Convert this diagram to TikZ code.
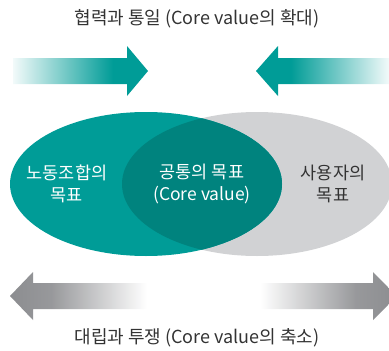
\documentclass[tikz,border=0pt]{standalone}
\usepackage{fontspec}
\setmainfont{Noto Sans CJK KR}
\usepackage{xcolor}
\definecolor{unionteal}{HTML}{009C97}
\definecolor{coreteal}{HTML}{00837E}
\definecolor{employergray}{HTML}{D1D2D4}
\definecolor{arrowgray}{HTML}{8C8D90}
\definecolor{textdark}{HTML}{333333}
\usepackage{tikz}
\usetikzlibrary{positioning}

% fades for the arrow shafts (25bp..75bp is stretched over the path)
\pgfdeclarehorizontalshading{tealin}{100bp}{color(0bp)=(white); color(25bp)=(white!95!unionteal); color(62bp)=(unionteal); color(100bp)=(unionteal)}
\pgfdeclarehorizontalshading{tealinrev}{100bp}{color(0bp)=(unionteal); color(38bp)=(unionteal); color(75bp)=(white!95!unionteal); color(100bp)=(white)}
\pgfdeclarehorizontalshading{grayout}{100bp}{color(0bp)=(arrowgray); color(25bp)=(arrowgray); color(40bp)=(arrowgray!90); color(75bp)=(white); color(100bp)=(white)}
\pgfdeclarehorizontalshading{grayoutrev}{100bp}{color(0bp)=(white); color(25bp)=(white); color(60bp)=(arrowgray!90); color(75bp)=(arrowgray); color(100bp)=(arrowgray)}

\begin{document}
\begin{tikzpicture}[
        x=1pt, y=-1pt,
        caption/.style={font=\fontsize{18}{21}\selectfont, text=textdark},
        goal/.style={font=\fontsize{17.5}{22}\selectfont, align=center, inner sep=0pt}
    ]
        \useasboundingbox (0,0) rectangle (389,351);

        % Title
        \node[caption] (cooperation) at (197,19) {협력과 통일 (Core value의 확대)};

        % Arrows towards each other
        \shade[shading=tealin] (13,58) -- (127,58) -- (127,46) -- (148,71) -- (127,96) -- (127,84) -- (13,84) -- cycle;
        \shade[shading=tealinrev] (389,58) -- (278,58) -- (278,46) -- (256,71) -- (278,96) -- (278,84) -- (389,84) -- cycle;

        % Goals
        \fill[employergray] (257,184) ellipse (135 and 72);
        \fill[unionteal] (146,184) ellipse (136 and 72);
        \begin{scope}
            \clip (146,184) ellipse (136 and 72);
            \fill[coreteal] (257,184) ellipse (135 and 72);
        \end{scope}

        \node[goal, text=white] (union) at (67,184) {노동조합의\\목표};
        \node[goal, text=white] (core) at (202,184) {공통의 목표\\(Core value)};
        \node[goal, text=textdark] (employer) at (333,184) {사용자의\\목표};

        % Arrows away from each other
        \shade[shading=grayout] (147,283) -- (33,283) -- (33,272) -- (10,296) -- (33,320) -- (33,309) -- (147,309) -- cycle;
        \shade[shading=grayoutrev] (260,283) -- (373,283) -- (373,272) -- (397,296) -- (373,320) -- (373,309) -- (260,309) -- cycle;

        % Bottom caption
        \node[caption] (conflict) at (197,338) {대립과 투쟁 (Core value의 축소)};

    \end{tikzpicture}
\end{document}
